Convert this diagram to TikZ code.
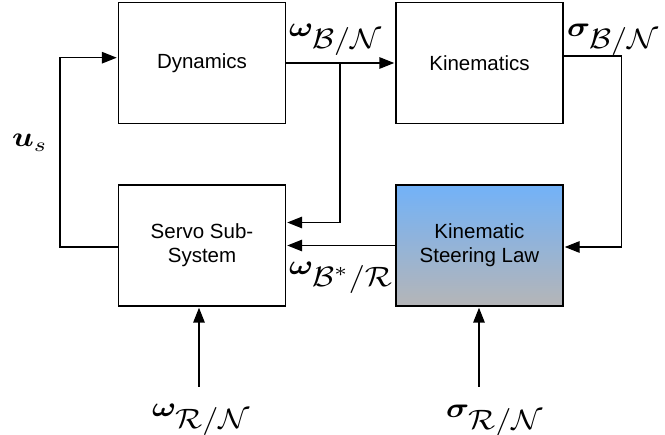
\documentclass[tikz,border=0pt]{standalone}
\usepackage{bm}
\usepackage{graphicx}
\usepackage{fontspec}
\setmainfont{Liberation Sans}
\usetikzlibrary{arrows.meta,calc}
\definecolor{ksltop}{RGB}{114,178,248}
\definecolor{kslbot}{RGB}{181,181,183}
\newcommand{\mlab}[1]{\scalebox{3.2}[2.8]{$#1$}}
\tikzset{
  blk/.style={draw, line width=1.4pt, minimum width=167pt, minimum height=121pt, inner sep=0pt,
    align=center, font=\fontsize{20.5}{24}\selectfont},
  arr/.style={line width=1.4pt, -{Triangle[length=15pt,width=11.5pt]}, shorten >=1pt},
  lab/.style={anchor=base west, inner sep=0pt}
}
\begin{document}
\begin{tikzpicture}[x=1pt,y=1pt]
\useasboundingbox (0,0) rectangle (665,-435);
\node[blk] (dyn) at (202,-63) {Dynamics};
\node[blk] (kin) at (479.5,-63) {Kinematics};
\node[blk] (servo) at (202,-245.5) {Servo Sub-\\System};
\node[blk, top color=ksltop, bottom color=kslbot] (ksl) at (479.5,-245.5) {Kinematic\\Steering Law};
% connectors
\draw[arr] (dyn.east) -- (kin.west);
\coordinate (br) at (340,-63);
\draw[arr] (br) |- ($(servo.east)+(0,23)$);
\draw[arr] (ksl.west) -- (servo.east);
\draw[arr] ($(kin.east)+(0,7)$) -- ++(58,0) |- ($(ksl.east)+(0,-1.5)$);
\draw[arr] ($(servo.west)+(0,-1.5)$) -- ++(-58,0) |- ($(dyn.west)+(0,5.3)$);
\coordinate (inw) at (199,-387);
\coordinate (ins) at (479,-387);
\draw[arr] (inw) -- (inw |- servo.south);
\draw[arr] (ins) -- (ins |- ksl.south);
% labels
\node[lab] (lwbn) at (289,-37) {\mlab{\bm{\omega}_{\textstyle\mathcal{B}/\mathcal{N}}}};
\node[lab] (lsbn) at (567,-37) {\mlab{\bm{\sigma}_{\textstyle\mathcal{B}/\mathcal{N}}}};
\node[lab] (lus) at (12,-147) {\mlab{\bm{u}_{s}}};
\node[lab] (lwbr) at (289,-275) {\mlab{\bm{\omega}_{\textstyle\mathcal{B}^{*}/\mathcal{R}}}};
\node[lab] (lwrn) at (152,-417) {\mlab{\bm{\omega}_{\textstyle\mathcal{R}/\mathcal{N}}}};
\node[lab] (lsrn) at (446,-418) {\mlab{\bm{\sigma}_{\textstyle\mathcal{R}/\mathcal{N}}}};
\end{tikzpicture}
\end{document}
